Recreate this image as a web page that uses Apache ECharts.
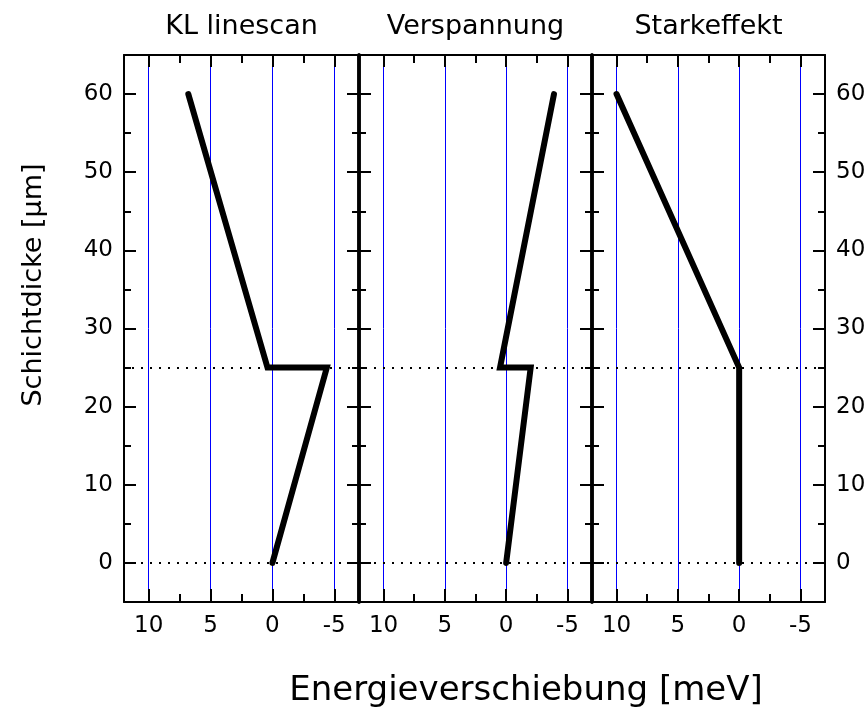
<!DOCTYPE html>
<html><head><meta charset="utf-8">
<script src="https://cdn.jsdelivr.net/npm/echarts@6/dist/echarts.min.js"></script>
<style>html,body{margin:0;padding:0;background:#fff}#c{width:866px;height:713px}</style>
</head><body><div id="c"></div>
<script>
const panelTitles = ['KL linescan', 'Verspannung', 'Starkeffekt'];
const klX = [6.8, 0.4, -4.4, 0];
const klY = [60, 25, 25, 0];
const vsX = [-3.9, 0.5, -2, 0];
const vsY = [60, 25, 25, 0];
const skX = [10, 0, 0];
const skY = [60, 25, 0];
const xMajorTicks = [10, 5, 0, -5];
const xMinorTicks = [7.5, 2.5, -2.5];
const yMajorTicks = [0, 10, 20, 30, 40, 50, 60];
const yMinorTicks = [5, 15, 25, 35, 45, 55];
const refLevels = [25, 0];
const xTitle = 'Energieverschiebung [meV]';
const yTitle = 'Schichtdicke [µm]';

const FONT = 'DejaVu Sans, Liberation Sans, Arial, sans-serif';
const panels = [[klX, klY], [vsX, vsY], [skX, skY]];
const gridBoxes = [{left: 124, width: 235}, {left: 359, width: 233}, {left: 592, width: 233}];
const titleCenters = [241.5, 475.5, 708.5];

const grid = gridBoxes.map(b => ({left: b.left, width: b.width, top: 55, height: 547, outerBoundsMode: 'none', containLabel: false}));
const xAxis = [], yAxis = [], series = [];

function mkX(g, pos, ticks, len, withLine, withLabel) {
  return {
    gridIndex: g, type: 'value', min: -7, max: 12, inverse: true, position: pos, z: 4,
    axisLine: {show: withLine, onZero: false, lineStyle: {color: '#000', width: 2}},
    axisTick: {show: true, inside: true, length: len, customValues: ticks, lineStyle: {color: '#000', width: 2}},
    axisLabel: {show: withLabel, customValues: ticks, margin: 13, fontSize: 23, fontFamily: FONT, color: '#000'},
    splitLine: {show: false}, minorTick: {show: false}
  };
}
function mkY(g, pos, ticks, len, withLine, lineW, withLabel) {
  return {
    gridIndex: g, type: 'value', min: -5, max: 65, position: pos, z: 4,
    axisLine: {show: withLine, onZero: false, lineStyle: {color: '#000', width: lineW}},
    axisTick: {show: true, inside: true, length: len, customValues: ticks, lineStyle: {color: '#000', width: 2}},
    axisLabel: {show: withLabel, customValues: ticks, margin: 11, fontSize: 23, fontFamily: FONT, color: '#000'},
    splitLine: {show: false}, minorTick: {show: false}
  };
}

panels.forEach((p, g) => {
  const xi = xAxis.length, yi = yAxis.length;
  xAxis.push(mkX(g, 'bottom', xMajorTicks, 13, true, true));
  xAxis.push(mkX(g, 'bottom', xMinorTicks, 8, false, false));
  xAxis.push(mkX(g, 'top', xMajorTicks, 12, true, false));
  xAxis.push(mkX(g, 'top', xMinorTicks, 8, false, false));
  // grid-line axis (blue vertical lines), drawn beneath everything
  xAxis.push({
    gridIndex: g, type: 'value', min: -7, max: 12, inverse: true, position: 'bottom', z: 0,
    axisLine: {show: false}, axisLabel: {show: false, customValues: xMajorTicks},
    axisTick: {show: false, customValues: xMajorTicks},
    splitLine: {show: true, lineStyle: {color: '#0000ff', width: 1}}
  });
  const leftW = g === 0 ? 2 : 3.5, rightW = g === 2 ? 2 : 3.5;
  yAxis.push(mkY(g, 'left', yMajorTicks, 12, true, leftW, g === 0));
  yAxis.push(mkY(g, 'left', yMinorTicks, 7, false, leftW, false));
  yAxis.push(mkY(g, 'right', yMajorTicks, 12, true, rightW, g === 2));
  yAxis.push(mkY(g, 'right', yMinorTicks, 7, false, rightW, false));

  series.push({
    type: 'line', xAxisIndex: xi, yAxisIndex: yi, data: [], z: 2, silent: true,
    markLine: {silent: true, symbol: ['none', 'none'], label: {show: false}, animation: false,
      lineStyle: {color: '#000', width: 2, type: [2, 7]},
      emphasis: {disabled: true},
      data: refLevels.map(v => ({yAxis: v}))}
  });
  series.push({
    type: 'line', xAxisIndex: xi, yAxisIndex: yi, z: 3, silent: true,
    symbol: 'none', showSymbol: false,
    lineStyle: {color: '#000', width: 6, join: 'miter', cap: 'round'},
    data: p[0].map((x, i) => [x, p[1][i]])
  });
});

const graphic = panelTitles.map((t, i) => ({
  type: 'text', x: titleCenters[i], y: 27, silent: true,
  style: {text: t, fontSize: 27, fontFamily: FONT, fill: '#000', align: 'center', verticalAlign: 'middle'}
}));
graphic.push({type: 'text', x: 526, y: 691, silent: true,
  style: {text: xTitle, fontSize: 34, fontFamily: FONT, fill: '#000', align: 'center', verticalAlign: 'middle'}});
graphic.push({type: 'text', x: 34, y: 285, rotation: Math.PI / 2, silent: true,
  style: {text: yTitle, fontSize: 27, fontFamily: FONT, fill: '#000', align: 'center', verticalAlign: 'middle'}});

const chart = echarts.init(document.getElementById('c'), null, {renderer: 'canvas'});
chart.setOption({
  animation: false,
  backgroundColor: '#fff',
  grid, xAxis, yAxis, series, graphic
});
</script></body></html>
